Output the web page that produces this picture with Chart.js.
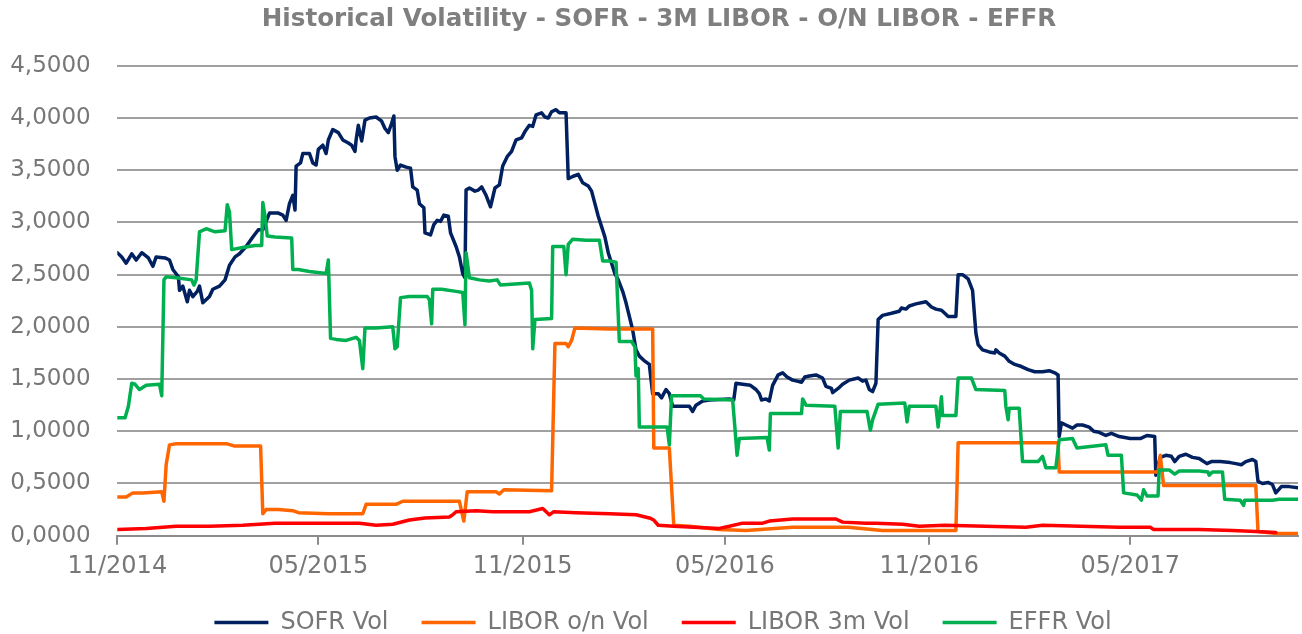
<!DOCTYPE html>
<html>
<head>
<meta charset="utf-8">
<title>Historical Volatility</title>
<script src="https://cdn.jsdelivr.net/npm/chart.js@4.4.1/dist/chart.umd.min.js"></script>
<style>
  html, body { margin: 0; padding: 0; background: #ffffff; }
  #wrap { width: 1302px; height: 634px; }
</style>
</head>
<body>
<div id="wrap"><canvas id="volChart" width="1302" height="634"></canvas></div>
<script>
// x tick positions (first day of month)
const xTickDates = ['2014-11-01', '2015-05-01', '2015-11-01', '2016-05-01', '2016-11-01', '2017-05-01'];
const xStart = '2014-11-01';
const xEnd = '2017-09-29';

const sofrDates = [
  '2014-11-01','2014-11-05','2014-11-09','2014-11-14','2014-11-18','2014-11-23','2014-11-29','2014-12-03','2014-12-06','2014-12-14',
  '2014-12-18','2014-12-21','2014-12-26','2014-12-27','2014-12-30','2015-01-03','2015-01-05','2015-01-08','2015-01-12','2015-01-14',
  '2015-01-17','2015-01-23','2015-01-26','2015-02-01','2015-02-06','2015-02-10','2015-02-15','2015-02-19','2015-02-25','2015-03-03',
  '2015-03-08','2015-03-12','2015-03-18','2015-03-26','2015-03-30','2015-04-02','2015-04-05','2015-04-08','2015-04-10','2015-04-11',
  '2015-04-15','2015-04-17','2015-04-23','2015-04-26','2015-04-29','2015-05-01','2015-05-05','2015-05-08','2015-05-10','2015-05-14',
  '2015-05-19','2015-05-23','2015-05-28','2015-05-31','2015-06-03','2015-06-04','2015-06-06','2015-06-09','2015-06-12','2015-06-16',
  '2015-06-22','2015-06-27','2015-06-30','2015-07-03','2015-07-06','2015-07-08','2015-07-09','2015-07-11','2015-07-14','2015-07-19',
  '2015-07-23','2015-07-25','2015-07-29','2015-07-31','2015-08-04','2015-08-05','2015-08-10','2015-08-13','2015-08-16','2015-08-19',
  '2015-08-22','2015-08-26','2015-08-28','2015-09-02','2015-09-05','2015-09-08','2015-09-10','2015-09-11','2015-09-14','2015-09-19',
  '2015-09-22','2015-09-25','2015-09-29','2015-10-03','2015-10-07','2015-10-11','2015-10-14','2015-10-18','2015-10-22','2015-10-26',
  '2015-10-31','2015-11-03','2015-11-07','2015-11-10','2015-11-13','2015-11-18','2015-11-21','2015-11-24','2015-11-27','2015-12-01',
  '2015-12-04','2015-12-10','2015-12-12','2015-12-16','2015-12-21','2015-12-25','2015-12-30','2016-01-02','2016-01-05','2016-01-08',
  '2016-01-11','2016-01-14','2016-01-17','2016-01-20','2016-01-23','2016-01-26','2016-01-30','2016-02-02','2016-02-05','2016-02-08',
  '2016-02-11','2016-02-14','2016-02-18','2016-02-23','2016-02-26','2016-03-02','2016-03-05','2016-03-09','2016-03-12','2016-03-15',
  '2016-03-21','2016-03-30','2016-04-02','2016-04-05','2016-04-11','2016-04-17','2016-05-05','2016-05-09','2016-05-11','2016-05-17',
  '2016-05-24','2016-05-29','2016-06-01','2016-06-03','2016-06-07','2016-06-10','2016-06-13','2016-06-18','2016-06-22','2016-06-26',
  '2016-07-01','2016-07-05','2016-07-09','2016-07-12','2016-07-16','2016-07-22','2016-07-28','2016-07-31','2016-08-05','2016-08-06',
  '2016-08-11','2016-08-15','2016-08-21','2016-08-29','2016-09-02','2016-09-05','2016-09-08','2016-09-11','2016-09-14','2016-09-16',
  '2016-09-20','2016-09-28','2016-10-05','2016-10-07','2016-10-11','2016-10-14','2016-10-20','2016-10-29','2016-11-03','2016-11-07',
  '2016-11-12','2016-11-15','2016-11-18','2016-11-25','2016-11-27','2016-12-01','2016-12-06','2016-12-10','2016-12-13','2016-12-15',
  '2016-12-19','2016-12-25','2016-12-30','2016-12-31','2017-01-03','2017-01-08','2017-01-12','2017-01-17','2017-01-23','2017-01-29',
  '2017-02-04','2017-02-11','2017-02-17','2017-02-22','2017-02-25','2017-02-26','2017-02-28','2017-03-04','2017-03-10','2017-03-14',
  '2017-03-19','2017-03-25','2017-03-29','2017-04-03','2017-04-09','2017-04-14','2017-04-21','2017-05-01','2017-05-10','2017-05-16',
  '2017-05-23','2017-05-24','2017-05-28','2017-06-02','2017-06-07','2017-06-10','2017-06-14','2017-06-20','2017-06-26','2017-07-02',
  '2017-07-09','2017-07-13','2017-07-21','2017-07-30','2017-08-04','2017-08-09','2017-08-13','2017-08-19','2017-08-22','2017-08-24',
  '2017-08-28','2017-09-02','2017-09-06','2017-09-09','2017-09-14','2017-09-21','2017-09-29'
];
const sofrVol = [
  2.71,2.67,2.61,2.70,2.64,2.71,2.66,2.58,2.67,2.66,
  2.64,2.55,2.48,2.35,2.39,2.24,2.35,2.29,2.34,2.39,
  2.23,2.29,2.36,2.39,2.45,2.59,2.67,2.70,2.77,2.86,
  2.93,2.93,3.09,3.09,3.07,3.02,3.18,3.26,3.12,3.54,
  3.57,3.66,3.66,3.57,3.55,3.70,3.74,3.66,3.79,3.89,
  3.86,3.79,3.76,3.74,3.68,3.79,3.93,3.78,3.98,4.00,
  4.01,3.97,3.90,3.86,3.95,4.02,3.63,3.50,3.55,3.53,
  3.52,3.34,3.31,3.18,3.14,2.90,2.88,2.98,3.02,3.01,
  3.07,3.06,2.90,2.77,2.67,2.51,2.47,3.31,3.33,3.30,
  3.31,3.34,3.26,3.15,3.33,3.36,3.54,3.63,3.68,3.79,
  3.81,3.87,3.93,3.92,4.03,4.05,4.01,4.00,4.06,4.08,
  4.05,4.05,3.42,3.44,3.46,3.38,3.35,3.30,3.18,3.06,
  2.96,2.86,2.71,2.61,2.51,2.45,2.34,2.23,2.10,1.97,
  1.78,1.72,1.68,1.64,1.36,1.36,1.32,1.40,1.36,1.24,
  1.24,1.24,1.19,1.25,1.29,1.30,1.31,1.30,1.46,1.45,
  1.44,1.40,1.36,1.30,1.31,1.29,1.44,1.54,1.56,1.52,
  1.49,1.48,1.47,1.52,1.53,1.54,1.51,1.43,1.41,1.37,
  1.41,1.45,1.49,1.51,1.48,1.49,1.40,1.38,1.46,2.07,
  2.11,2.13,2.15,2.18,2.17,2.20,2.22,2.24,2.19,2.17,
  2.16,2.13,2.10,2.10,2.50,2.50,2.46,2.35,1.94,1.83,
  1.78,1.76,1.75,1.78,1.75,1.72,1.67,1.64,1.62,1.59,
  1.57,1.57,1.58,1.56,1.54,0.95,1.08,1.06,1.03,1.06,
  1.06,1.04,1.00,0.99,0.96,0.98,0.95,0.93,0.93,0.96,
  0.95,0.58,0.75,0.77,0.76,0.71,0.76,0.78,0.75,0.74,
  0.69,0.71,0.71,0.70,0.69,0.68,0.71,0.73,0.71,0.52,
  0.50,0.51,0.49,0.41,0.47,0.47,0.46
];

const liborOnDates = [
  '2014-11-01','2014-11-09','2014-11-15','2014-11-24','2014-12-11','2014-12-13','2014-12-15','2014-12-18','2014-12-24','2015-02-08',
  '2015-02-14','2015-03-10','2015-03-12','2015-03-15','2015-03-26','2015-04-08','2015-04-13','2015-05-10','2015-06-10','2015-06-13',
  '2015-07-10','2015-07-16','2015-09-05','2015-09-07','2015-09-09','2015-09-12','2015-10-08','2015-10-11','2015-10-15','2015-11-27',
  '2015-11-30','2015-12-10','2015-12-12','2015-12-15','2015-12-18','2016-01-18','2016-02-26','2016-02-27','2016-03-12','2016-03-16',
  '2016-03-30','2016-04-26','2016-05-20','2016-07-01','2016-08-20','2016-09-20','2016-11-25','2016-11-27','2017-02-25','2017-02-26',
  '2017-05-26','2017-05-28','2017-05-31','2017-08-22','2017-08-24','2017-09-09','2017-09-29'
];
const liborOnVol = [
  0.37,0.37,0.41,0.41,0.42,0.33,0.68,0.87,0.88,0.88,
  0.86,0.86,0.21,0.25,0.25,0.24,0.22,0.21,0.21,0.30,
  0.30,0.33,0.33,0.23,0.14,0.42,0.42,0.40,0.44,0.43,
  1.84,1.84,1.81,1.87,1.99,1.98,1.98,0.84,0.84,0.10,
  0.09,0.06,0.05,0.08,0.08,0.05,0.05,0.89,0.89,0.61,
  0.61,0.77,0.48,0.48,0.04,0.02,0.02
];

const libor3mDates = [
  '2014-11-01','2014-11-27','2014-12-24','2015-01-23','2015-02-22','2015-03-23','2015-05-02','2015-05-23','2015-06-07','2015-06-22',
  '2015-07-07','2015-07-22','2015-08-05','2015-08-27','2015-08-30','2015-09-02','2015-09-20','2015-10-05','2015-11-07','2015-11-19',
  '2015-11-25','2015-11-29','2015-12-19','2016-01-18','2016-02-11','2016-02-23','2016-02-27','2016-03-02','2016-03-16','2016-04-26',
  '2016-05-05','2016-05-17','2016-06-04','2016-06-10','2016-07-01','2016-08-09','2016-08-15','2016-09-05','2016-09-14','2016-10-08',
  '2016-10-23','2016-11-15','2017-01-27','2017-02-11','2017-04-21','2017-05-19','2017-05-22','2017-07-02','2017-08-01','2017-08-22',
  '2017-09-09'
];
const libor3mVol = [
  0.06,0.07,0.09,0.09,0.10,0.12,0.12,0.12,0.12,0.10,
  0.11,0.15,0.17,0.18,0.20,0.23,0.24,0.23,0.23,0.26,
  0.20,0.23,0.22,0.21,0.20,0.17,0.15,0.10,0.09,0.07,
  0.09,0.12,0.12,0.14,0.16,0.16,0.13,0.12,0.12,0.11,
  0.09,0.10,0.08,0.10,0.08,0.08,0.06,0.06,0.05,0.04,
  0.03
];

const effrDates = [
  '2014-11-01','2014-11-08','2014-11-11','2014-11-14','2014-11-17','2014-11-21','2014-11-27','2014-12-09','2014-12-11','2014-12-13',
  '2014-12-15','2014-12-24','2015-01-07','2015-01-09','2015-01-11','2015-01-14','2015-01-20','2015-01-28','2015-02-06','2015-02-08',
  '2015-02-10','2015-02-12','2015-02-22','2015-03-05','2015-03-11','2015-03-12','2015-03-14','2015-03-16','2015-03-23','2015-04-07',
  '2015-04-08','2015-04-13','2015-04-23','2015-05-08','2015-05-10','2015-05-12','2015-05-17','2015-05-26','2015-06-04','2015-06-07',
  '2015-06-10','2015-06-12','2015-06-22','2015-07-07','2015-07-09','2015-07-11','2015-07-14','2015-07-22','2015-08-07','2015-08-09',
  '2015-08-11','2015-08-12','2015-08-20','2015-09-02','2015-09-08','2015-09-10','2015-09-11','2015-09-14','2015-09-23','2015-10-02',
  '2015-10-09','2015-10-12','2015-11-07','2015-11-09','2015-11-10','2015-11-12','2015-11-27','2015-11-28','2015-12-08','2015-12-10',
  '2015-12-12','2015-12-16','2015-12-28','2016-01-09','2016-01-12','2016-01-18','2016-01-24','2016-01-27','2016-02-07','2016-02-10',
  '2016-02-11','2016-02-13','2016-02-14','2016-03-10','2016-03-12','2016-03-14','2016-04-09','2016-04-12','2016-05-08','2016-05-10',
  '2016-05-12','2016-05-14','2016-06-08','2016-06-10','2016-06-11','2016-07-09','2016-07-10','2016-07-13','2016-08-08','2016-08-11',
  '2016-08-13','2016-09-06','2016-09-09','2016-09-11','2016-09-16','2016-10-10','2016-10-12','2016-10-14','2016-11-07','2016-11-09',
  '2016-11-12','2016-11-13','2016-11-25','2016-11-27','2016-12-09','2016-12-13','2017-01-08','2017-01-09','2017-01-11','2017-01-12',
  '2017-01-21','2017-01-24','2017-02-07','2017-02-11','2017-02-14','2017-02-23','2017-02-26','2017-03-10','2017-03-14','2017-04-09',
  '2017-04-11','2017-04-23','2017-04-25','2017-05-07','2017-05-11','2017-05-13','2017-05-16','2017-05-26','2017-05-27','2017-06-05',
  '2017-06-10','2017-06-14','2017-07-02','2017-07-10','2017-07-11','2017-07-14','2017-07-23','2017-07-25','2017-08-08','2017-08-11',
  '2017-08-12','2017-09-06','2017-09-12','2017-09-29'
];
const effrVol = [
  1.13,1.13,1.24,1.46,1.45,1.40,1.44,1.45,1.34,2.45,
  2.48,2.47,2.45,2.40,2.45,2.91,2.94,2.91,2.92,3.17,
  3.10,2.74,2.76,2.78,2.78,3.19,3.06,2.87,2.86,2.85,
  2.55,2.55,2.53,2.51,2.64,1.89,1.88,1.87,1.90,1.87,
  1.60,1.99,1.99,2.00,1.79,1.81,2.28,2.29,2.29,2.26,
  2.03,2.36,2.36,2.34,2.33,2.02,2.71,2.47,2.45,2.44,
  2.45,2.40,2.42,2.35,1.79,2.07,2.08,2.77,2.77,2.50,
  2.79,2.84,2.83,2.83,2.63,2.63,2.62,1.86,1.86,1.81,
  1.53,1.60,1.04,1.04,0.87,1.34,1.34,1.31,1.30,1.04,
  0.77,0.93,0.94,0.82,1.17,1.17,1.31,1.25,1.24,0.84,
  1.19,1.19,1.01,1.11,1.26,1.27,1.09,1.24,1.24,1.04,
  1.33,1.15,1.15,1.51,1.51,1.40,1.39,1.24,1.11,1.22,
  1.22,0.71,0.71,0.76,0.65,0.65,0.92,0.93,0.84,0.87,
  0.77,0.77,0.41,0.39,0.34,0.44,0.38,0.38,0.63,0.63,
  0.59,0.62,0.62,0.61,0.58,0.61,0.61,0.35,0.34,0.29,
  0.34,0.34,0.35,0.35
];

const toDay = s => Date.parse(s + 'T00:00:00Z') / 864e5;
const points = (dates, vals) => dates.map((d, i) => ({ x: toDay(d), y: vals[i] }));

const textGrey = '#777777';
const gridGrey = '#a0a0a0';

function line(label, dates, vals, color, order) {
  return {
    label: label,
    data: points(dates, vals),
    borderColor: color,
    backgroundColor: color,
    borderWidth: 3.5,
    borderCapStyle: 'round',
    borderJoinStyle: 'round',
    pointRadius: 0,
    pointHoverRadius: 0,
    tension: 0,
    fill: false,
    order: order
  };
}

const data = {
  datasets: [
    line('SOFR Vol', sofrDates, sofrVol, '#002060', 4),
    line('LIBOR o/n Vol', liborOnDates, liborOnVol, '#ff6600', 3),
    line('LIBOR 3m Vol', libor3mDates, libor3mVol, '#ff0000', 2),
    line('EFFR Vol', effrDates, effrVol, '#00b050', 1)
  ]
};

// title and legend sit a little right of the canvas centre
const shiftBlocks = {
  id: 'shiftBlocks',
  afterLayout(chart) {
    if (chart.titleBlock) { chart.titleBlock.left += 10; chart.titleBlock.right += 10; }
    if (chart.legend) { chart.legend.left += 14; chart.legend.right += 14; }
  }
};

const config = {
  type: 'line',
  data: data,
  plugins: [shiftBlocks],
  options: {
    responsive: false,
    animation: false,
    layout: { padding: { left: 0, right: 4, top: 0, bottom: -10.5 } },
    plugins: {
      title: {
        display: true,
        text: 'Historical Volatility - SOFR - 3M LIBOR - O/N LIBOR - EFFR',
        color: '#7f7f7f',
        font: { family: 'DejaVu Sans', size: 24.6, weight: 'bold', lineHeight: 1.2 },
        padding: { top: 4.5, bottom: 31.8 }
      },
      legend: {
        position: 'bottom',
        labels: {
          sort: (a, b) => a.datasetIndex - b.datasetIndex,
          usePointStyle: true,
          pointStyle: 'line',
          pointStyleWidth: 54,
          boxHeight: 24,
          padding: 33,
          color: textGrey,
          font: { family: 'DejaVu Sans', size: 24 }
        }
      },
      tooltip: { enabled: false }
    },
    scales: {
      x: {
        type: 'linear',
        min: toDay(xStart),
        max: toDay(xEnd),
        afterBuildTicks: scale => {
          scale.ticks = xTickDates.map(d => ({ value: toDay(d) }));
        },
        afterFit: scale => { scale.height = 41.8; },
        ticks: {
          color: textGrey,
          font: { family: 'DejaVu Sans', size: 24 },
          padding: 8,
          maxRotation: 0,
          autoSkip: false,
          callback: value => {
            const d = new Date(value * 864e5);
            const m = String(d.getUTCMonth() + 1).padStart(2, '0');
            return m + '/' + d.getUTCFullYear();
          }
        },
        grid: {
          drawOnChartArea: false,
          drawTicks: true,
          tickLength: 9,
          color: '#8c8c8c',
          lineWidth: 2
        },
        border: { display: true, color: '#8c8c8c', width: 2 }
      },
      y: {
        min: 0,
        max: 4.5,
        afterFit: scale => { scale.width = 117.3; },
        ticks: {
          stepSize: 0.5,
          color: textGrey,
          font: { family: 'DejaVu Sans', size: 23 },
          padding: 26.6,
          callback: value => value.toFixed(4).replace('.', ',')
        },
        grid: { color: gridGrey, lineWidth: 2, drawTicks: false },
        border: { display: false }
      }
    }
  }
};

new Chart(document.getElementById('volChart'), config);
</script>
</body>
</html>
